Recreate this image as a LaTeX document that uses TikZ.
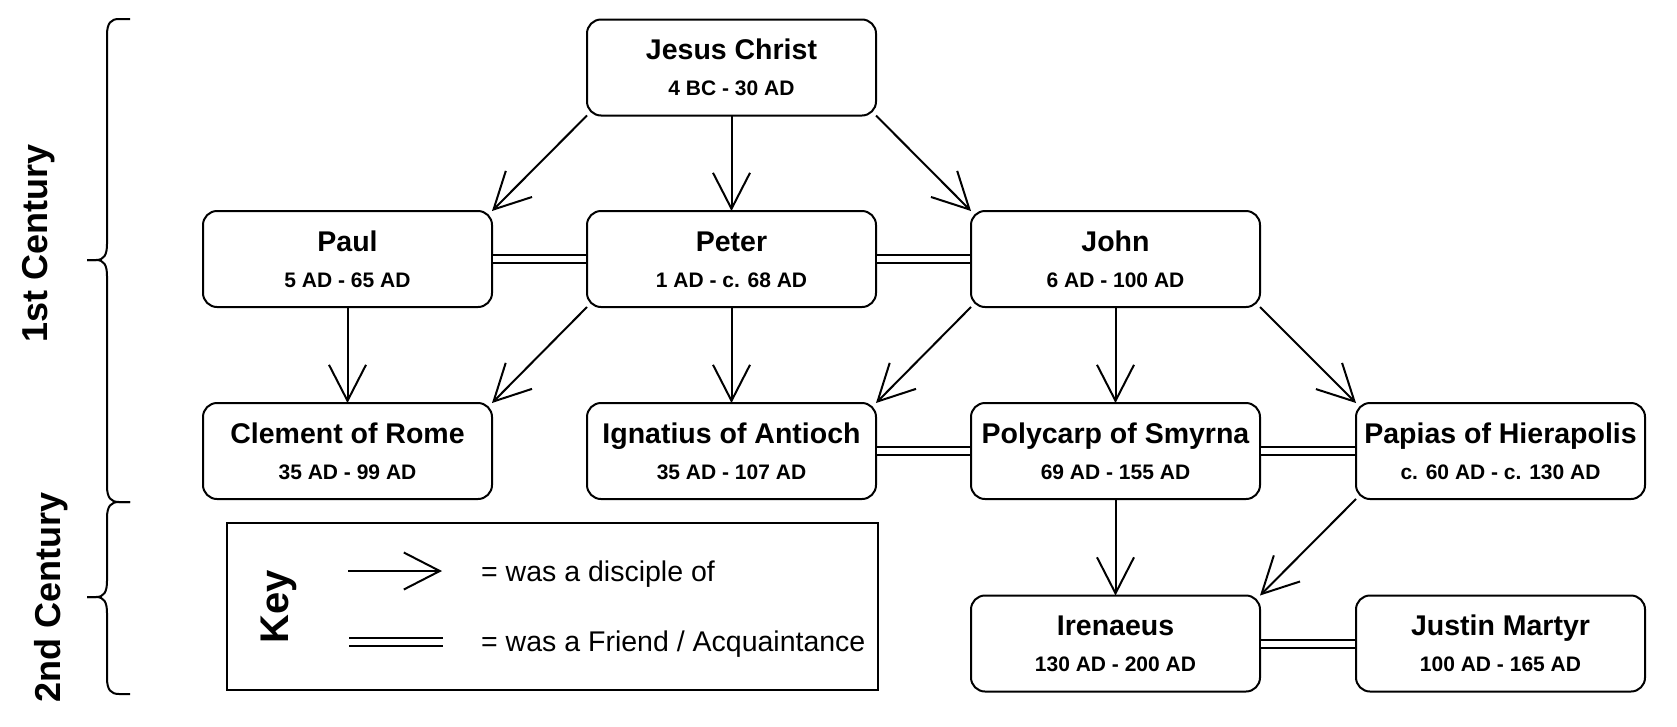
\documentclass[tikz,border=0pt]{standalone}
\usepackage{fontspec}
\setmainfont{Liberation Sans}
\usetikzlibrary{arrows.meta}
\newcommand\cbrace[3]{%
  \draw[bracel] (130,#1) -- (119,#1) .. controls (111,#1) and (107,#1+4) .. (107,#1+16)
    -- (107,#2-16) .. controls (107,#2-5) and (104,#2) .. (96,#2) -- (87,#2);
  \draw[bracel] (87,#2) -- (96,#2) .. controls (104,#2) and (107,#2+5) .. (107,#2+16)
    -- (107,#3-16) .. controls (107,#3-4) and (111,#3) .. (119,#3) -- (130,#3);
}
\begin{document}
\begin{tikzpicture}[x=1pt,y=-1pt,
  pbox/.style={draw,line width=2pt,rounded corners=14pt,minimum width=289pt,minimum height=96pt,inner sep=0pt,outer sep=0pt},
  ptitle/.style={font=\fontsize{28.5}{34}\selectfont\bfseries,inner sep=0pt,anchor=base},
  pdate/.style={font=\fontsize{21}{25}\selectfont\bfseries,inner sep=0pt,anchor=base},
  disc/.style={line width=2pt,-{Straight Barb[length=36pt,width=37pt]}},
  friend/.style={line width=2pt,double,double distance=6pt,shorten <=1pt,shorten >=1pt},
  bracel/.style={line width=2pt},
  century/.style={font=\fontsize{36}{42}\selectfont\bfseries,inner sep=0pt,anchor=base,rotate=90},
  keytext/.style={font=\fontsize{28.5}{34}\selectfont,inner sep=0pt,anchor=base west},
  keyframe/.style={draw,line width=2pt,minimum width=651pt,minimum height=167pt,inner sep=0pt,outer sep=0pt}
]
\useasboundingbox (0,0) rectangle (1677,726);

\newcommand\person[5]{%
  \node[pbox] (#1) at (#2,#3) {};
  \node[ptitle] (#1-t) at (#2,#3-8) {#4};
  \node[pdate] (#1-d) at (#2,#3+28) {#5};
}

\person{jesus}{731.5}{67.5}{Jesus Christ}{4 BC - 30 AD}
\person{paul}{347.5}{259}{Paul}{5 AD - 65 AD}
\person{peter}{731.5}{259}{Peter}{1 AD - c. 68 AD}
\person{john}{1115.5}{259}{John}{6 AD - 100 AD}
\person{clement}{347.5}{451}{Clement of Rome}{35 AD - 99 AD}
\person{ignatius}{731.5}{451}{Ignatius of Antioch}{35 AD - 107 AD}
\person{polycarp}{1115.5}{451}{Polycarp of Smyrna}{69 AD - 155 AD}
\person{papias}{1500.5}{451}{Papias of Hierapolis}{c. 60 AD - c. 130 AD}
\person{irenaeus}{1115.5}{643.5}{Irenaeus}{130 AD - 200 AD}
\person{justin}{1500.5}{643.5}{Justin Martyr}{100 AD - 165 AD}

% disciple arrows
\draw[disc] (jesus.south west) -- (paul.north east);
\draw[disc] (jesus.south) -- (peter.north);
\draw[disc] (jesus.south east) -- (john.north west);
\draw[disc] (paul.south) -- (clement.north);
\draw[disc] (peter.south west) -- (clement.north east);
\draw[disc] (peter.south) -- (ignatius.north);
\draw[disc] (john.south west) -- (ignatius.north east);
\draw[disc] (john.south) -- (polycarp.north);
\draw[disc] (john.south east) -- (papias.north west);
\draw[disc] (polycarp.south) -- (irenaeus.north);
\draw[disc] (papias.south west) -- (irenaeus.north east);

% friend lines
\draw[friend] (paul.east) -- (peter.west);
\draw[friend] (peter.east) -- (john.west);
\draw[friend] (ignatius.east) -- (polycarp.west);
\draw[friend] (polycarp.east) -- (papias.west);
\draw[friend] (irenaeus.east) -- (justin.west);

% century braces and labels
\cbrace{19}{260}{502}
\cbrace{502}{597}{694}
\node[century] (c1) at (47,243) {1st Century};
\node[century] (c2) at (60,597) {2nd Century};

% key
\node[keyframe] (keybox) at (552.5,606.5) {};
\node[font=\fontsize{40}{48}\selectfont\bfseries,inner sep=0pt,anchor=base,rotate=90] (keylabel) at (288,607) {Key};
\coordinate (ka1) at (348,571);
\coordinate (ka2) at (442,571);
\draw[disc] (ka1) -- (ka2);
\coordinate (kf1) at (348,642);
\coordinate (kf2) at (444,642);
\draw[friend] (kf1) -- (kf2);
\node[keytext] (kt1) at (481,581.7) {= was a disciple of};
\node[keytext] (kt2) at (481,651.7) {= was a Friend / Acquaintance};
\end{tikzpicture}
\end{document}
